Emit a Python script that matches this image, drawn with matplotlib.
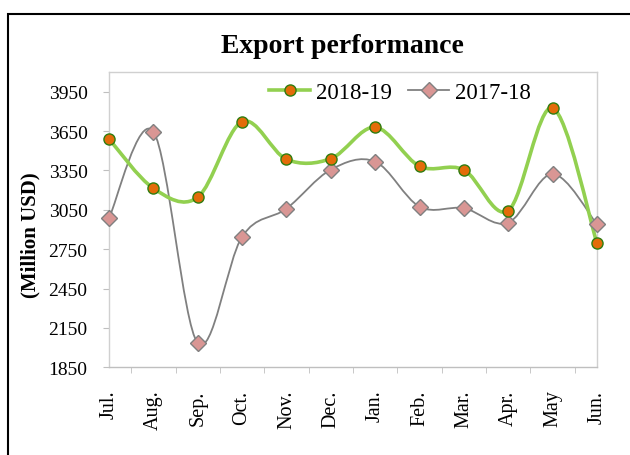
import numpy as np
import matplotlib
matplotlib.use('Agg')
import matplotlib.pyplot as plt
from matplotlib.path import Path
from matplotlib.patches import PathPatch, Rectangle
from matplotlib.lines import Line2D

plt.rcParams['font.family'] = ['Liberation Serif', 'DejaVu Serif']

# data
months = ['Jul.', 'Aug.', 'Sep.', 'Oct.', 'Nov.', 'Dec.',
          'Jan.', 'Feb.', 'Mar.', 'Apr.', 'May', 'Jun.']
exp_2018_19 = [3590, 3214, 3146, 3722, 3435, 3440, 3679, 3382, 3354, 3044, 3826, 2795]
exp_2017_18 = [2986, 3646, 2035, 2845, 3059, 3356, 3417, 3074, 3062, 2952, 3323, 2940]
y_ticks = [1850, 2150, 2450, 2750, 3050, 3350, 3650, 3950]

GREEN = '#92D050'
ORANGE = '#E36C09'
DKGREEN = '#2E7D10'
GRAY = '#808080'
PINK = '#D99694'


# smoothed line like Excel (Catmull-Rom bezier through the points)
def smooth_path(xs, ys):
    pts = np.column_stack([xs, ys]).astype(float)
    n = len(pts)
    verts = [pts[0]]
    codes = [Path.MOVETO]
    for i in range(n - 1):
        p0 = pts[max(i - 1, 0)]
        p1 = pts[i]
        p2 = pts[i + 1]
        p3 = pts[min(i + 2, n - 1)]
        verts += [p1 + (p2 - p0) / 6, p2 - (p3 - p1) / 6, p2]
        codes += [Path.CURVE4] * 3
    return Path(verts, codes)


W, H = 630, 456
fig = plt.figure(figsize=(W / 100, H / 100), dpi=100)
ax = fig.add_axes([109 / W, 1 - 368.3 / H, (597 - 109) / W, (368.3 - 73) / H])

x = np.arange(len(months))

ax.add_patch(PathPatch(smooth_path(x, exp_2017_18), fill=False, ec=GRAY, lw=1.3,
                       clip_on=False, zorder=2))
ax.plot(x, exp_2017_18, ls='none', marker='D', ms=8.5, mfc=PINK, mec=GRAY, mew=1.0,
        clip_on=False, zorder=4)

ax.add_patch(PathPatch(smooth_path(x, exp_2018_19), fill=False, ec=GREEN, lw=2.6,
                       clip_on=False, zorder=3))
ax.plot(x, exp_2018_19, ls='none', marker='o', ms=8, mfc=ORANGE, mec=DKGREEN, mew=1.0,
        clip_on=False, zorder=5)

ax.set_xlim(0, 11)
ax.set_ylim(1850, 4100)
ax.set_yticks(y_ticks)
ax.set_yticklabels([str(v) for v in y_ticks], fontsize=14)
ax.tick_params(axis='y', length=4.5, color='#BFBFBF', pad=11)

ax.set_xticks(x)
ax.set_xticklabels(months, rotation=90, fontsize=14.5, va='top')
ax.set_xticks(list(np.arange(0.5, 11, 1.0)) + [11], minor=True)
ax.tick_params(axis='x', which='major', length=0, pad=16)
ax.tick_params(axis='x', which='minor', length=4.5, color='#BFBFBF')

for s in ax.spines.values():
    s.set_color('#D0D0D0')
    s.set_linewidth(1.0)
ax.spines['bottom'].set_color('#BFBFBF')

handles = [
    Line2D([], [], color=GREEN, lw=2.6, marker='o', ms=8, mfc=ORANGE, mec=DKGREEN),
    Line2D([], [], color=GRAY, lw=1.3, marker='D', ms=8, mfc=PINK, mec=GRAY),
]
fig.legend(handles, ['2018-19', '2017-18'], ncol=2, frameon=False, fontsize=16.5,
           loc='center', bbox_to_anchor=(400 / W, 1 - 93 / H),
           handlelength=1.8, handletextpad=0.25, columnspacing=0.7)

fig.text(342.5 / W, 1 - 53.3 / H, 'Export performance', ha='center', va='baseline',
         fontsize=20, fontweight='bold')
fig.text(30 / W, 1 - 235 / H, '(Million USD)', rotation=90, ha='center', va='center',
         fontsize=15, fontweight='bold')

# outer chart border (cropped on the right and bottom)
fig.patches.append(Rectangle((8 / W, -0.2), 1.5, 1.2 - 15 / H, transform=fig.transFigure,
                             fill=False, ec='black', lw=1.5, figure=fig))

fig.savefig('out.png', dpi=100)
